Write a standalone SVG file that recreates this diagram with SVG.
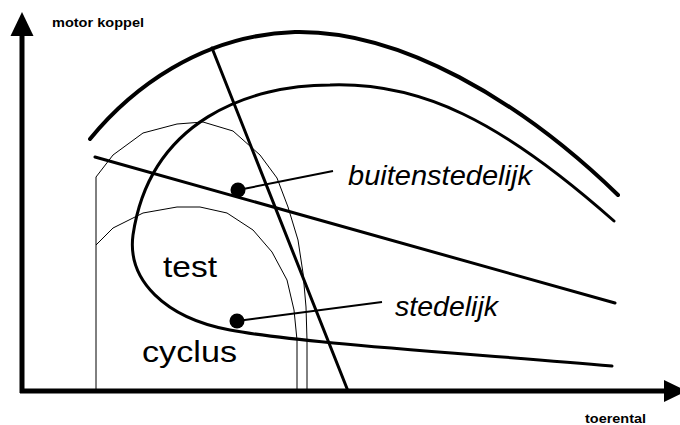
<svg xmlns="http://www.w3.org/2000/svg" width="680" height="425" viewBox="0 0 680 425">
<style>
.thin{fill:none;stroke:#000;stroke-width:1;stroke-linejoin:round}
.thick{fill:none;stroke:#000;stroke-linecap:round}
.lbl{font-family:"Liberation Sans",Arial,sans-serif;fill:#000}
.ax{font-family:"Liberation Sans",Arial,sans-serif;font-weight:bold;font-size:13px;fill:#000}
</style>
<rect width="680" height="425" fill="#fff"/>
<g id="axes">
<line x1="22" y1="393" x2="22" y2="32" stroke="#000" stroke-width="5"/>
<polygon points="22,12 33.5,36 10.5,36" fill="#000"/>
<line x1="20" y1="391" x2="666" y2="391" stroke="#000" stroke-width="5"/>
<polygon points="687,391 664,380 664,402" fill="#000"/>
<text class="ax" x="52" y="27" textLength="92" lengthAdjust="spacingAndGlyphs">motor koppel</text>
<text class="ax" x="585" y="423" textLength="61" lengthAdjust="spacingAndGlyphs">toerental</text>
</g>
<g id="test-regions">
<polyline class="thin" points="96,390 96,177 113,155 143,133 177,124 203,122 233,131 260,155 277,178 288,207 298,240 303,273 306,307 307,340 307,390"/>
<polyline class="thin" points="96,245 113,228 143,213 177,207 200,207 227,213 253,230 272,252 287,280 294,310 297,340 297,390"/>
</g>
<g id="connectors">
<path class="thick" stroke-width="4" d="M90,139 C130,90 200,35 295,32 C400,30 520,100 618,195"/>
<path class="thick" stroke-width="3" d="M614,221 C500,120 420,82 330,85 C250,85 150,120 133,235 C127,280 165,318 230,330 C300,343 450,352 612,366"/>
<line class="thick" stroke-width="3" x1="212" y1="48" x2="348" y2="391"/>
<line class="thick" stroke-width="3" x1="95" y1="157" x2="615" y2="303"/>
<line stroke="#000" stroke-width="2" x1="238" y1="190" x2="333" y2="171"/>
<line stroke="#000" stroke-width="2" x1="237" y1="321" x2="382" y2="302"/>
</g>
<g id="buitenstedelijk">
<circle cx="238" cy="190" r="7.5" fill="#000"/>
<text class="lbl" x="348" y="185" font-size="27" font-style="italic" textLength="184" lengthAdjust="spacingAndGlyphs">buitenstedelijk</text>
</g>
<g id="stedelijk">
<circle cx="237" cy="321" r="7.5" fill="#000"/>
<text class="lbl" x="395" y="316" font-size="27" font-style="italic" textLength="103" lengthAdjust="spacingAndGlyphs">stedelijk</text>
</g>
<g id="test-cyclus">
<text class="lbl" x="163" y="277" font-size="30" textLength="54" lengthAdjust="spacingAndGlyphs">test</text>
<text class="lbl" x="142" y="362" font-size="30" textLength="95" lengthAdjust="spacingAndGlyphs">cyclus</text>
</g>
</svg>
